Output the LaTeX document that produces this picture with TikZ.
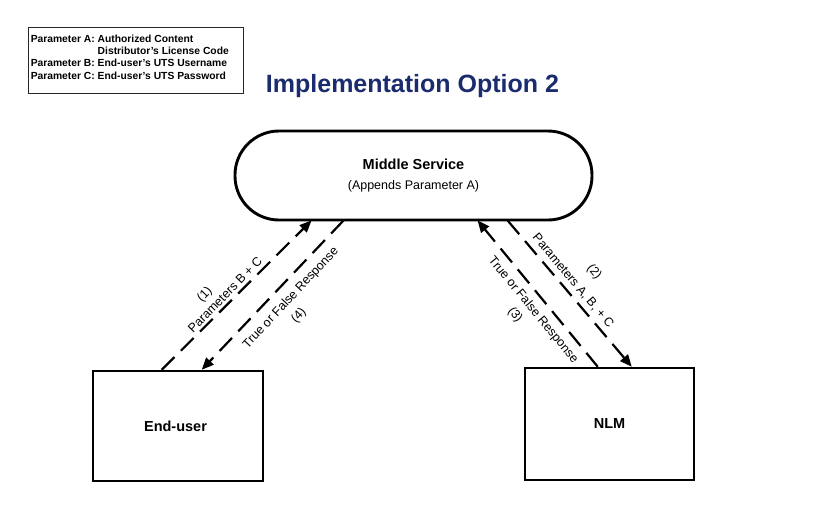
\documentclass[tikz,border=0pt]{standalone}
\usepackage{fontspec}
\setmainfont{Liberation Sans}
\usetikzlibrary{arrows.meta}
\definecolor{titleblue}{RGB}{26,43,110}
\begin{document}
\begin{tikzpicture}[x=1pt,y=-1pt,
  box/.style={draw, line width=2.5pt, minimum width=170pt, minimum height=110pt, inner sep=0pt,
    font=\fontsize{14.5}{17}\selectfont\bfseries},
  msbox/.style={draw, line width=2.9pt, minimum width=357pt, minimum height=89pt, inner sep=0pt,
    rounded corners=44pt, align=center, font=\fontsize{12.5}{20}\selectfont},
  conn/.style={line width=2.2pt, dash pattern=on 18pt off 9pt, -{Triangle[length=12pt,width=10pt]}},
  lbl/.style={font=\fontsize{12.5}{15}\selectfont, inner sep=0pt},
  legendbox/.style={draw=black!85, line width=0.9pt, minimum width=215pt, minimum height=66pt, inner sep=0pt},
  legendtext/.style={font=\fontsize{10.3}{12.3}\selectfont\bfseries, inner sep=0pt, anchor=north west},
  titlestyle/.style={font=\fontsize{25}{30}\selectfont\bfseries, text=titleblue, inner sep=0pt, anchor=base}
]
\useasboundingbox (0,0) rectangle (825,525);
\fill[white] (0,0) rectangle (825,525);

% legend
\node[legendbox] (legend) at (135.5,60) {};
\node[legendtext] (legtext) at ([xshift=3pt,yshift=-7pt]legend.north west)
  {\begin{tabular}{@{}l@{ }l@{}}
   Parameter A: & Authorized Content\\
   & Distributor's License Code\\
   Parameter B: & End-user's UTS Username\\
   Parameter C: & End-user's UTS Password
   \end{tabular}};

% title
\node[titlestyle] (title) at (412.5,92) {Implementation Option 2};

% main nodes
\node[msbox] (ms) at (413.5,175.5) {\fontsize{14.5}{20}\selectfont\bfseries Middle Service\\(Appends Parameter A)};
\node[box] (eu) at (178,426) {\hspace*{-5pt}End-user};
\node[box, minimum width=169pt, minimum height=112pt] (nlm) at (609.5,424) {NLM};

% connectors
\draw[conn] ([xshift=70pt]eu.north west) -- ([xshift=78pt,yshift=1pt]ms.south west);
\draw[conn] ([xshift=110pt,yshift=1pt]ms.south west) -- ([xshift=110pt]eu.north west);
\draw[conn] ([xshift=274pt,yshift=1pt]ms.south west) -- ([xshift=108pt]nlm.north west);
\draw[conn] ([xshift=74pt]nlm.north west) -- ([xshift=244pt,yshift=1pt]ms.south west);

% labels
\node[lbl, rotate=45.6] (l1) at (225,295) {Parameters B + C};
\node[lbl, rotate=45.6] (n1) at (205,295) {(1)};
\node[lbl, rotate=47] (l4) at (291,298) {True or False Response};
\node[lbl, rotate=47] (n4) at (299,316) {(4)};
\node[lbl, rotate=-50] (l2) at (573,281) {Parameters A, B, + C};
\node[lbl, rotate=-50] (n2) at (594,272) {(2)};
\node[lbl, rotate=-50.5] (l3) at (533,310) {True or False Response};
\node[lbl, rotate=-50.5] (n3) at (515,315) {(3)};
\end{tikzpicture}
\end{document}
